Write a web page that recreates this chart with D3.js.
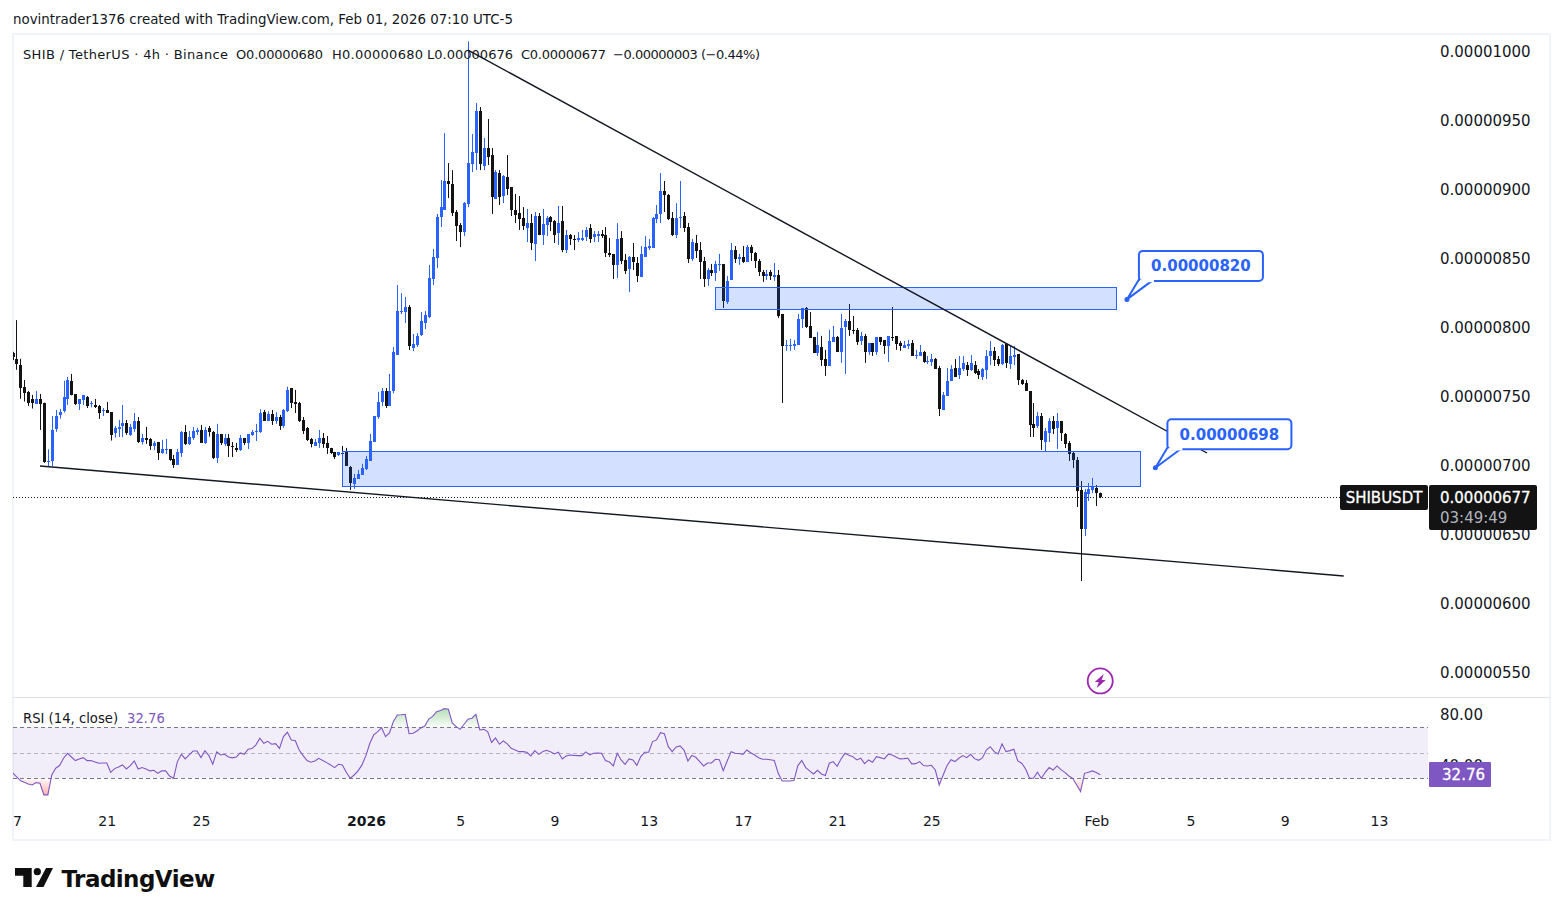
<!DOCTYPE html>
<html>
<head>
<meta charset="utf-8">
<title>SHIB / TetherUS 4h</title>
<script src="https://cdn.jsdelivr.net/npm/d3@7/dist/d3.min.js"></script>
<style>
  html, body { margin: 0; padding: 0; background: #fff; }
  svg { display: block; }
  text { font-family: "DejaVu Sans", sans-serif; }
</style>
</head>
<body>
<svg id="chart" width="1563" height="916"></svg>
<script>
// 4h candles, prices in units of 0.00000001. Bar 276 opens on 1 Feb.
const opens = [781,776.6,772.5,756.3,753.2,747.9,744.5,747.9,745,702,
703,726,736.3,739.2,747.9,760.9,751.5,744.2,747.1,749.6,
744.7,743.8,742.8,739.4,739.9,738.4,723.2,726.1,728.3,730.5,
721.8,726.1,731.9,716.7,719.6,718.9,713.8,716.7,708.7,711.4,
711.6,704.4,700,708.7,724,715,719.6,724,725.4,716,
726.9,724,705.1,722.5,715.3,719.6,713.8,712.4,710.9,719.6,
716,721.8,724,724,738.4,731.9,737,731.9,734.8,728.3,
739.2,755.8,745.7,745,732.7,726.9,718.9,713.8,716,719.6,
716,712.4,709.5,707.3,708.7,710,698.6,686.3,689.9,692.8,
697.2,703,716.7,734.8,745.7,753.7,742.8,753.7,779.7,810.9,
810.9,814.5,784.8,786.9,794.2,802.9,807.5,834.8,850,879.7,
884.8,905.8,903.6,883.3,873.9,868.8,889.1,918.1,926,956.5,
916.6,929.7,924.6,892.7,911.6,894.9,908.7,901.4,884.8,882.6,
879,871.7,875.3,860.1,880.4,866.6,873.9,879.7,876.8,868.1,
876.8,855.8,866.6,863.7,863,863,865.2,871.7,865.2,865.9,
867.4,866.6,853.6,852.9,844.9,864.5,848.5,842,850.7,846.4,
836.2,850.7,857.2,857.2,878.2,881.9,898.5,895.6,879,866.6,
879.3,880.5,872.5,849.3,860.9,855.8,847.9,834.8,841.3,839.2,
845,845.7,818.2,834.1,855.8,849.3,850.8,847.2,858,853.7,
847.9,839.9,837,839.9,836.3,837.7,809.5,786.5,786.5,786.3,
787,805.8,813.8,800.8,792.8,781.2,785.6,776.9,771.8,789.2,
792.8,782,800,804.4,797.9,797.9,789.9,793.5,782,788.5,
782,792.8,790.6,786.3,792.8,793.5,788.5,784.8,786.3,788.5,
779,779,782,774.7,774.7,776.9,770.3,739.8,750,760.9,
770.3,765.2,769.5,772.4,768.8,772.4,768.1,763.7,768.8,779,
782.6,776.8,773.2,787.7,773.2,778.2,780.4,761.6,759.4,753.6,
729.7,728.2,735.5,716.7,723.2,731.9,726.8,731.9,722.5,715.9,
708.7,703.6,681.9,653.6,679,681.9,683.3,680];

const highs = [782,805,777,761.6,753.7,750.8,753.7,751.5,745.2,711.4,
735.5,739.9,740.6,761,763.8,766,751.5,747.9,750.8,750,
746.4,747.9,743.5,741.3,745.7,738.4,728.3,732.7,743.5,732.7,
729.8,737.7,734.8,722.5,727.6,719.6,717.4,716.7,718.2,718.9,
711.6,707.3,711.6,724.7,729,724.7,727.6,726.9,729,727.6,
728.3,724.7,729.8,722.5,722.5,722.5,716.7,716,721.8,719.6,
722.5,725.4,729.8,740.4,739.9,738.9,739.9,738.2,736.3,740.6,
756.8,755.8,754.4,745.7,734.8,727.6,719.6,718.9,725.4,723.2,
721,712.4,709.5,709.5,713.8,712.4,699.3,693.5,696.4,700.8,
706.6,722.5,735.5,753,755.8,755.8,766,785.5,830.4,824.6,
821.7,815.9,794.9,795.6,810.9,811.6,844.9,856.5,881.9,906.5,
940.5,918.8,913.7,884.8,875.3,890.6,1007,939.8,962.3,959.4,
936.9,950.7,929.7,913.7,913.7,910.1,924.6,901.4,896.4,894.9,
886.9,885.5,881.9,883.3,882.6,885.5,880.4,880.4,877.5,887.7,
887.7,870.3,867.4,866.6,868.8,870.3,872.4,874.6,869.5,869.5,
870.3,872.4,864.5,852.9,875.3,869.5,852.9,851.4,860.9,850.7,
858.7,865.9,863.7,879.7,888.4,911.6,905.8,896.4,883.3,889.8,
905.8,883.4,875.4,863.8,866.7,861.6,850.8,842.8,845.7,847.9,
853,845.7,837,860.9,858.7,853,858.7,859.5,859.5,854.4,
849.3,841.3,841.3,841.3,846.4,841.3,809.5,790.6,791.4,790.6,
809.5,813.8,814.5,810.9,792.8,796.4,793.5,783.4,797.9,800.8,
793.5,809.5,805.8,816.7,808,799.3,796.4,795,788.5,788.5,
792.8,792.8,790.6,793.5,814.5,793.5,789.9,789.9,790.6,790.6,
783.4,787,782.7,779,780.5,777.6,771.8,752.9,770.3,772.4,
776.8,779,779,774.6,779.7,775.3,769.5,770.3,783.3,789.8,
785.5,779,787.7,788.4,787,786.2,780.4,762.3,761.6,753.6,
744.9,738.4,737.7,726.8,734,735.5,737.7,731.9,723.2,717.4,
710.1,705.8,688.4,682.6,687,690.6,685.5,680];

const lows = [776,769,748,746,742.8,740.9,744.2,725.4,701.5,699.3,
699.3,724,733.6,738,743.5,750.5,743.5,739.9,743.5,741.3,
741.8,741.3,733.4,735.5,737.7,717.7,719.9,720.3,720.1,721.8,
721.1,724,716,714.8,715.3,710.9,710.9,703.7,708.2,708,
703,697.9,700,705.8,714.5,714.5,718.2,721.8,716,715.3,
720.6,704.4,701.5,714.5,713.8,705.8,705.8,709.5,710.2,714.5,
711.6,721.1,717.4,723.2,731.9,731.9,729,729.8,725.4,726.9,
738.4,741.3,737.7,731.2,722.5,717.4,712.8,713.8,712.4,712.4,
708,708,704.4,706.6,703.7,699.3,681.9,682.7,689.9,692.8,
696.4,703,716.7,733.4,742.8,741.3,742.8,752,779.7,809.4,
802.9,783.3,782.6,785.5,793.5,798.5,806.5,830.4,842.7,872.4,
884.8,893.4,880.4,862.3,857.9,865.9,886.9,912.3,913.7,913.7,
913.7,917.4,881.9,892.7,888.4,889.8,895.6,880.4,875.3,870.3,
870.3,861.6,855.8,847.8,866.6,859.4,865.9,869.5,860.9,859.4,
854.3,853.6,859.4,855.8,861.6,862.3,862.3,860.9,861.6,861.6,
864.5,850.7,850.7,834.8,835.5,845.6,838.4,825.3,841.3,832.6,
836.2,850.7,855.8,857.2,875.3,875.3,883.3,877.5,865.9,864.5,
871.8,868.9,846.4,847.9,850,834.8,829,829.8,837,833.4,
840.6,813.8,816.7,834.1,846.4,845,846.4,847.2,847.9,842.8,
837,832.7,834.1,834.1,833.4,806.6,745,782.7,782.7,783.4,
787,799.3,799.3,792.1,781.2,779,771.8,764.6,771.8,789.2,
782,774,766,793.5,795,787,787,774,779.8,779,
779.8,787,780.5,774.7,789.9,783.4,782.7,784.8,784.1,779,
776.9,779,774,773.2,771.8,769.6,735.5,739.8,750,760.9,
763.7,762.3,768.1,764.5,768.1,765.9,762.3,761.6,762.3,772.4,
771.7,771.7,772.4,770.3,769.5,772.4,758,758,753.6,720.3,
720.3,726.8,710.9,710.1,716.7,722.4,711.6,717.4,712.3,702.9,
697.8,669.6,615.9,648.5,673.9,679.7,670.3,676];

const closes = [778,773.2,755.8,752.5,745.2,745,747.9,744.2,702,703,
725.4,735.5,738.4,749.3,761.6,750.8,744.2,747.9,750.8,742.8,
745.2,742.1,737.7,740.1,737.7,721.8,726.9,727.6,730.5,723.2,
727.6,731.9,716.7,719.6,718.2,713.8,716,708.7,711.6,711.6,
703.7,700,709.5,724,715.3,720.3,724.7,725.4,716,725.4,
724,705.1,722.5,716,719.6,713.8,713.6,710.9,719.6,716,
722.5,724,724.7,737.7,731.9,737,731.9,734.8,728.3,739.9,
754.4,745,744.2,731.9,724.7,718.2,715.3,716.7,719.6,715.3,
712.4,708.7,705.8,709.5,708.2,699.3,687,690.6,693.5,697.9,
704.4,717.4,735.5,745.7,753.7,742.8,753.7,781.9,811.6,811.6,
814.5,786.2,787.7,793.5,804.3,808.7,835.5,850.7,879.7,886.9,
905.8,903.6,882.6,873.2,868.8,889.8,918.8,926.8,956.5,918.1,
929.7,923.2,894.2,912.3,894.2,909.4,900,884.8,881.1,878.2,
873.2,875.3,860.9,880.4,866.6,874.6,879,876.1,866.6,875.3,
855.8,866.6,863.7,863.3,864.5,864.5,870.3,864,867.4,867.4,
865.9,853.6,852.2,844.9,863.7,847.8,840.6,850.7,847.1,836.9,
852.9,858,858.7,879,881.9,898.5,895.6,878.2,866.6,879,
879.8,871.8,849.3,861.6,855.1,847.2,834.8,841.3,839.2,845.7,
845.7,818.9,833.4,855.8,849.3,850.8,847.2,858,853.7,847.9,
839.9,837,838.4,837,837.7,808,786.3,787,787,787.7,
805.8,813.8,800,792.1,781.2,787,776.1,771.8,789.9,792.8,
782,799.3,804.4,797.9,797.2,789.2,793.5,782,788.5,782,
792.8,789.2,786.3,793.5,792.1,787.7,786.3,787,787.7,779,
779.8,782,774.7,775.4,776.9,769.6,740.6,750.7,760.9,769.5,
763.7,770.3,773.9,768.8,773.9,766.6,765.2,769.5,779,782.6,
776.1,773.2,786.9,773.9,779,779.7,761.6,758.7,753.6,729,
726.8,735.5,718.1,724.6,731.9,726.1,731.9,723.2,715.2,708,
703.6,681.2,653.6,680.4,682.6,684.8,679.7,677];

// RSI (14, close), one value per bar.
const rsiValues = [34.4,31.3,28.2,26.9,25.6,24.8,26.6,26.1,17,17,
32.6,37.9,40,45.7,49.6,46.7,43.9,45.2,46.2,43.9,
43.9,42.8,41.8,42,42,34.7,37.6,38.9,40.5,37.3,
40,43.6,37.3,38.4,37.3,35.8,36.3,33.9,35.8,35.8,
31.8,30,43.1,48.8,45.2,48.3,51.4,51.4,46.2,51.7,
47.8,41,50.7,48.3,48.8,46.7,46,46.7,49.9,48.8,
52.8,53.3,56.2,61.4,57.5,59,56.7,57.2,53.5,62.7,
66.1,60.1,59.6,52.2,47.8,43.9,42.6,43.6,45.7,43.9,
42.3,40.5,38.4,41,40.5,34.7,30,32.6,35.8,40.5,
47.8,57.5,64,66.6,69.7,62.7,65.6,74.5,79.7,79.9,
80.2,65,65.3,67.1,69.5,71,76.5,78.6,82.3,83.1,
84.6,84.1,73.4,70.5,68.4,72.4,76.3,77.1,80.2,67.9,
68.4,66.6,58.2,61.6,56.7,59.3,57,53.5,52.2,50.9,
50.9,50.4,47.5,51.7,48.8,50.9,52,50.9,49.1,50.4,
45.2,47.5,48.3,48,47.8,47.8,50.7,48.3,49.6,49.9,
49.6,43.9,42.8,39.7,49.6,44.4,41,45.2,44.4,40.2,
47,50.4,50.4,58.8,60.1,65.8,65,54.8,50.9,54.6,
55.4,52.2,43.6,48,46.5,43.1,39.7,42,42,44.9,
44.6,36,43.6,50.9,49.6,49.4,48.8,52.2,50.1,48.3,
46.2,44.9,44.9,44.6,43.9,33.9,27.9,27.9,27.9,28.2,
40,43.9,38.4,35.8,33.4,36.3,33.4,32.1,41.8,43.1,
39.4,45.2,49.6,48,47,44.4,45.7,41.5,44.4,42.6,
47,46.2,45.2,48.8,48.3,46.7,45.2,45.4,45.7,41.3,
41.5,43.1,40,39.7,40.2,36.5,24.8,32.6,40,44.6,
43.1,45.7,47.8,46.2,48.8,45.4,44.1,46,52.2,54.8,
50.9,49.1,57,50.9,51.7,52.8,43.6,41.8,37.3,30,
30,34.7,30,34.7,38.4,36.5,39.7,36.8,34.7,31.8,
30,24.8,19.6,33.9,34.7,35.8,34.5,32.76];

// Axis ticks.
const priceTicks = [1000,950,900,850,800,750,700,650,600,550];
const rsiTicks = [80,40];
const rsiBands = [70,50,30];
const dateTicks = ["2025-12-17","2025-12-21","2025-12-25","2026-01-01","2026-01-05","2026-01-09","2026-01-13","2026-01-17","2026-01-21","2026-01-25","2026-02-01","2026-02-05","2026-02-09","2026-02-13"];
const dateLabels = ["17","21","25","2026","5","9","13","17","21","25","Feb","5","9","13"];

// Legend line, one piece per field.
const legendPieces = ["SHIB / TetherUS · 4h · Binance","O0.00000680","H0.00000680","L0.00000676","C0.00000677","−0.00000003 (−0.44%)"];
const legendStarts = [23,236,332,427,521,613];
const legendWidths = [205,87,91,86,85,147];

// Drawing tools: endpoints and edges as [bar, price].
const trendLines = [
  [[116,1000.7],[304.2,708.7]],
  [[7,699.3],[339,619.6]]
];
const zones = [
  {from:179.05, to:281.2, top:829, bottom:813},
  {from:84.1, to:287.2, top:710.1, bottom:684.8}
];
const callouts = [
  {bar:283.8, price:820},
  {bar:291.05, price:698}
];

const lastPrice = 677;
const lastRsi = 32.76;
const boltAnchor = {bar:277, price:543.5};
const FEB_FIRST = Date.UTC(2026,1,1);
const HOURS_4 = 4*3600*1000;
const fmtPrice = v => (v*1e-8).toFixed(8);

const blue = "#2962ff", black = "#131313", ink = "#131722", purple = "#7e57c2";

const svg = d3.select("#chart");
const defs = svg.append("defs");

const xScale = d3.scaleUtc()
  .domain([new Date(Date.UTC(2025,11,17)), new Date(FEB_FIRST)])
  .range([12.5,1096.3]);
const barX = i => xScale(new Date(FEB_FIRST + (i-276)*HOURS_4));
const yPrice = d3.scaleLinear().domain([550,1000]).range([672,51]);
const yRsi = d3.scaleLinear().domain([30,70]).range([778.3,727.3]);

const PANE = {left:13, right:1428, top:35, split:697, bottom:805};

defs.append("clipPath").attr("id","priceClip").append("rect")
  .attr("x",PANE.left).attr("y",PANE.top).attr("width",PANE.right-PANE.left).attr("height",PANE.split-PANE.top);
defs.append("clipPath").attr("id","rsiClip").append("rect")
  .attr("x",PANE.left).attr("y",PANE.split).attr("width",PANE.right-PANE.left).attr("height",PANE.bottom-PANE.split);
defs.append("clipPath").attr("id","axisClip").append("rect")
  .attr("x",PANE.left).attr("y",PANE.bottom).attr("width",1428-PANE.left).attr("height",34);
defs.append("clipPath").attr("id","obClip").append("rect")
  .attr("x",PANE.left).attr("y",PANE.split).attr("width",PANE.right-PANE.left).attr("height",yRsi(70)-PANE.split);
defs.append("clipPath").attr("id","osClip").append("rect")
  .attr("x",PANE.left).attr("y",yRsi(30)).attr("width",PANE.right-PANE.left).attr("height",PANE.bottom-yRsi(30));

const gradObj = (id, y1, y2, c1, o1, o2) => {
  const g = defs.append("linearGradient").attr("id",id).attr("gradientUnits","userSpaceOnUse")
    .attr("x1",0).attr("x2",0).attr("y1",y1).attr("y2",y2);
  g.append("stop").attr("offset",0).attr("stop-color",c1).attr("stop-opacity",o1);
  g.append("stop").attr("offset",1).attr("stop-color",c1).attr("stop-opacity",o2);
};
gradObj("obFill", yRsi(85), yRsi(70), "#4caf50", 0.42, 0.03);
gradObj("osFill", yRsi(30), yRsi(16), "#ff5252", 0.03, 0.48);

// Card frame and footer.
svg.append("text").attr("x",13).attr("y",24).attr("font-size",13.4).attr("fill",ink)
  .text("novintrader1376 created with TradingView.com, Feb 01, 2026 07:10 UTC-5");
svg.append("rect").attr("x",13).attr("y",34).attr("width",1537).attr("height",806)
  .attr("fill","#fff").attr("stroke","#f0f3fa").attr("stroke-width",2);
svg.append("line").attr("x1",13).attr("x2",1550).attr("y1",697.5).attr("y2",697.5)
  .attr("stroke","#e0e3eb");

// Candles.
const candles = d3.range(opens.length).map(i => ({i, o:opens[i], h:highs[i], l:lows[i], c:closes[i]}));
const gCandles = svg.append("g").attr("clip-path","url(#priceClip)");
const candle = gCandles.selectAll("g").data(candles).join("g")
  .attr("fill", d => d.c >= d.o ? blue : black);
candle.append("rect")
  .attr("x", d => Math.round(barX(d.i)))
  .attr("width",1)
  .attr("y", d => yPrice(d.h))
  .attr("height", d => Math.max(1, yPrice(d.l)-yPrice(d.h)));
candle.append("rect")
  .attr("x", d => Math.round(barX(d.i))-1)
  .attr("width",3)
  .attr("y", d => Math.round(yPrice(Math.max(d.o,d.c))))
  .attr("height", d => Math.max(1, Math.round(yPrice(Math.min(d.o,d.c)))-Math.round(yPrice(Math.max(d.o,d.c)))));

// Last price line.
svg.append("line").attr("x1",PANE.left).attr("x2",1340)
  .attr("y1",Math.round(yPrice(lastPrice))+0.5).attr("y2",Math.round(yPrice(lastPrice))+0.5)
  .attr("stroke",ink).attr("stroke-dasharray","1 2");

// Zones, trend lines, callouts.
const gDraw = svg.append("g");
gDraw.selectAll("rect.zone").data(zones).join("rect").attr("class","zone")
  .attr("x", d => Math.floor(barX(d.from))+0.5)
  .attr("width", d => Math.round(barX(d.to)-barX(d.from)))
  .attr("y", d => Math.round(yPrice(d.top))+0.5)
  .attr("height", d => Math.round(yPrice(d.bottom)-yPrice(d.top)))
  .attr("fill",blue).attr("fill-opacity",0.2).attr("stroke",blue).attr("stroke-width",1);
gDraw.selectAll("line.trend").data(trendLines).join("line").attr("class","trend")
  .attr("x1", d => barX(d[0][0])).attr("y1", d => yPrice(d[0][1]))
  .attr("x2", d => barX(d[1][0])).attr("y2", d => yPrice(d[1][1]))
  .attr("stroke",ink).attr("stroke-width",1.4);

const callout = gDraw.selectAll("g.callout").data(callouts).join("g").attr("class","callout")
  .attr("transform", d => `translate(${barX(d.bar)},${yPrice(d.price)})`);
callout.append("path").attr("d","M0,0 L12,-20 L27,-20 Z").attr("fill","#fff").attr("stroke",blue).attr("stroke-width",2).attr("stroke-linejoin","round");
callout.append("rect").attr("x",12).attr("y",-48.5).attr("width",124).attr("height",30).attr("rx",4)
  .attr("fill","#fff").attr("stroke",blue).attr("stroke-width",2);
callout.append("path").attr("d","M13,-18.5 L27,-18.5").attr("stroke","#fff").attr("stroke-width",2.5);
callout.append("circle").attr("r",2.5).attr("fill",blue);
callout.append("text").attr("x",74).attr("y",-28).attr("text-anchor","middle")
  .attr("font-size",15).attr("font-weight",700).attr("fill",blue).text(d => fmtPrice(d.price));

// Bolt marker above the latest bars.
const bolt = svg.append("g").attr("transform",`translate(${barX(boltAnchor.bar)},${yPrice(boltAnchor.price)})`);
bolt.append("circle").attr("r",12.5).attr("fill","#fff").attr("stroke","#9c27b0").attr("stroke-width",1.8);
bolt.append("path").attr("d","M3.5,-7 L-5.5,1 L-1.5,1 L-3.5,7 L5.5,-1 L1.5,-1 Z").attr("fill","#9c27b0");

// Chart legend.
svg.append("g").selectAll("text").data(legendPieces).join("text")
  .attr("x",(d,i) => legendStarts[i]).attr("y",59).attr("font-size",13).attr("fill",ink)
  .attr("textLength",(d,i) => legendWidths[i]).attr("lengthAdjust","spacing")
  .text(d => d);

// Price axis.
const priceAxis = svg.append("g").attr("transform","translate(1440,1)")
  .call(d3.axisRight(yPrice).tickValues(priceTicks).tickSize(0).tickPadding(0).tickFormat(fmtPrice));
priceAxis.select(".domain").remove();
priceAxis.selectAll("text").attr("font-size",15).attr("font-family","'DejaVu Sans'").attr("fill",ink);

// Last-price tags.
svg.append("rect").attr("x",1340).attr("y",485).attr("width",88).attr("height",25).attr("rx",2).attr("fill",black);
svg.append("text").attr("x",1384).attr("y",503).attr("text-anchor","middle").attr("font-size",15).attr("fill","#fff")
  .attr("stroke","#fff").attr("stroke-width",0.3).text("SHIBUSDT");
svg.append("rect").attr("x",1429).attr("y",485).attr("width",108).attr("height",45).attr("rx",2).attr("fill",black);
svg.append("text").attr("x",1440).attr("y",503).attr("font-size",15).attr("fill","#fff")
  .attr("stroke","#fff").attr("stroke-width",0.3).text(fmtPrice(lastPrice));
svg.append("text").attr("x",1440).attr("y",523).attr("font-size",15).attr("fill","#b2b5be").text("03:49:49");

// RSI pane.
const gRsi = svg.append("g").attr("clip-path","url(#rsiClip)");
gRsi.append("rect").attr("x",PANE.left).attr("width",PANE.right-PANE.left)
  .attr("y",yRsi(70)).attr("height",yRsi(30)-yRsi(70)).attr("fill",purple).attr("fill-opacity",0.1);
gRsi.selectAll("line.band").data(rsiBands).join("line").attr("class","band")
  .attr("x1",PANE.left).attr("x2",PANE.right)
  .attr("y1", d => Math.round(yRsi(d))+0.5).attr("y2", d => Math.round(yRsi(d))+0.5)
  .attr("stroke","#787b86").attr("stroke-opacity", d => d===50 ? 0.5 : 1)
  .attr("stroke-dasharray","4 3");
const rsiSeries = rsiValues.map((v,i) => ({v,i}));
const areaBetween = level => d3.area().x(d => barX(d.i)).y0(yRsi(level)).y1(d => yRsi(d.v));
gRsi.append("path").attr("clip-path","url(#obClip)").attr("d",areaBetween(70)(rsiSeries)).attr("fill","url(#obFill)");
gRsi.append("path").attr("clip-path","url(#osClip)").attr("d",areaBetween(30)(rsiSeries)).attr("fill","url(#osFill)");
gRsi.append("path").attr("d",d3.line().x(d => barX(d.i)).y(d => yRsi(d.v))(rsiSeries))
  .attr("fill","none").attr("stroke",purple).attr("stroke-width",1.1);

const legendRsi = svg.append("text").attr("x",23).attr("y",723).attr("font-size",13.2).attr("fill",ink);
legendRsi.append("tspan").text("RSI (14, close)");
legendRsi.append("tspan").attr("dx",9).attr("fill",purple).text(lastRsi.toFixed(2));

const rsiAxis = svg.append("g").attr("transform","translate(1440,0)")
  .call(d3.axisRight(yRsi).tickValues(rsiTicks).tickSize(0).tickPadding(0).tickFormat(d => d.toFixed(2)));
rsiAxis.select(".domain").remove();
rsiAxis.selectAll("text").attr("font-size",15).attr("font-family","'DejaVu Sans'").attr("fill",ink);

svg.append("rect").attr("x",1429).attr("y",762).attr("width",62).attr("height",25).attr("rx",1).attr("fill",purple);
svg.append("text").attr("x",1485).attr("y",780).attr("text-anchor","end").attr("font-size",15).attr("fill","#fff")
  .attr("stroke","#fff").attr("stroke-width",0.3).text(lastRsi.toFixed(2));

// Time axis; the group clip trims the leftmost label at the card edge.
const tickDates = dateTicks.map(s => new Date(s+"T00:00:00Z"));
const labelOf = new Map(tickDates.map((d,i) => [+d, dateLabels[i]]));
const timeAxis = svg.append("g").attr("clip-path","url(#axisClip)").append("g").attr("transform","translate(0,816.5)")
  .call(d3.axisBottom(xScale).tickValues(tickDates).tickSize(0).tickPadding(0).tickFormat(d => labelOf.get(+d)));
timeAxis.select(".domain").remove();
timeAxis.selectAll("text").attr("font-size",14).attr("font-family","'DejaVu Sans'").attr("fill",ink)
  .attr("font-weight", d => labelOf.get(+d)==="2026" ? 700 : 400);

// Footer mark.
const logo = svg.append("g").attr("fill","#0f0f0f");
logo.append("path").attr("d","M15,868 H31.7 V887 H23.3 V875.7 H15 Z");
logo.append("circle").attr("cx",37.3).attr("cy",871.7).attr("r",3.6);
logo.append("path").attr("d","M46,868 H53 L43.5,887 H36 Z");
svg.append("text").attr("x",61.5).attr("y",887).attr("font-size",23).attr("font-weight",600)
  .attr("letter-spacing",-0.55)
  .attr("font-family","Inter, sans-serif").attr("fill","#0f0f0f").text("TradingView");
</script>
</body>
</html>
